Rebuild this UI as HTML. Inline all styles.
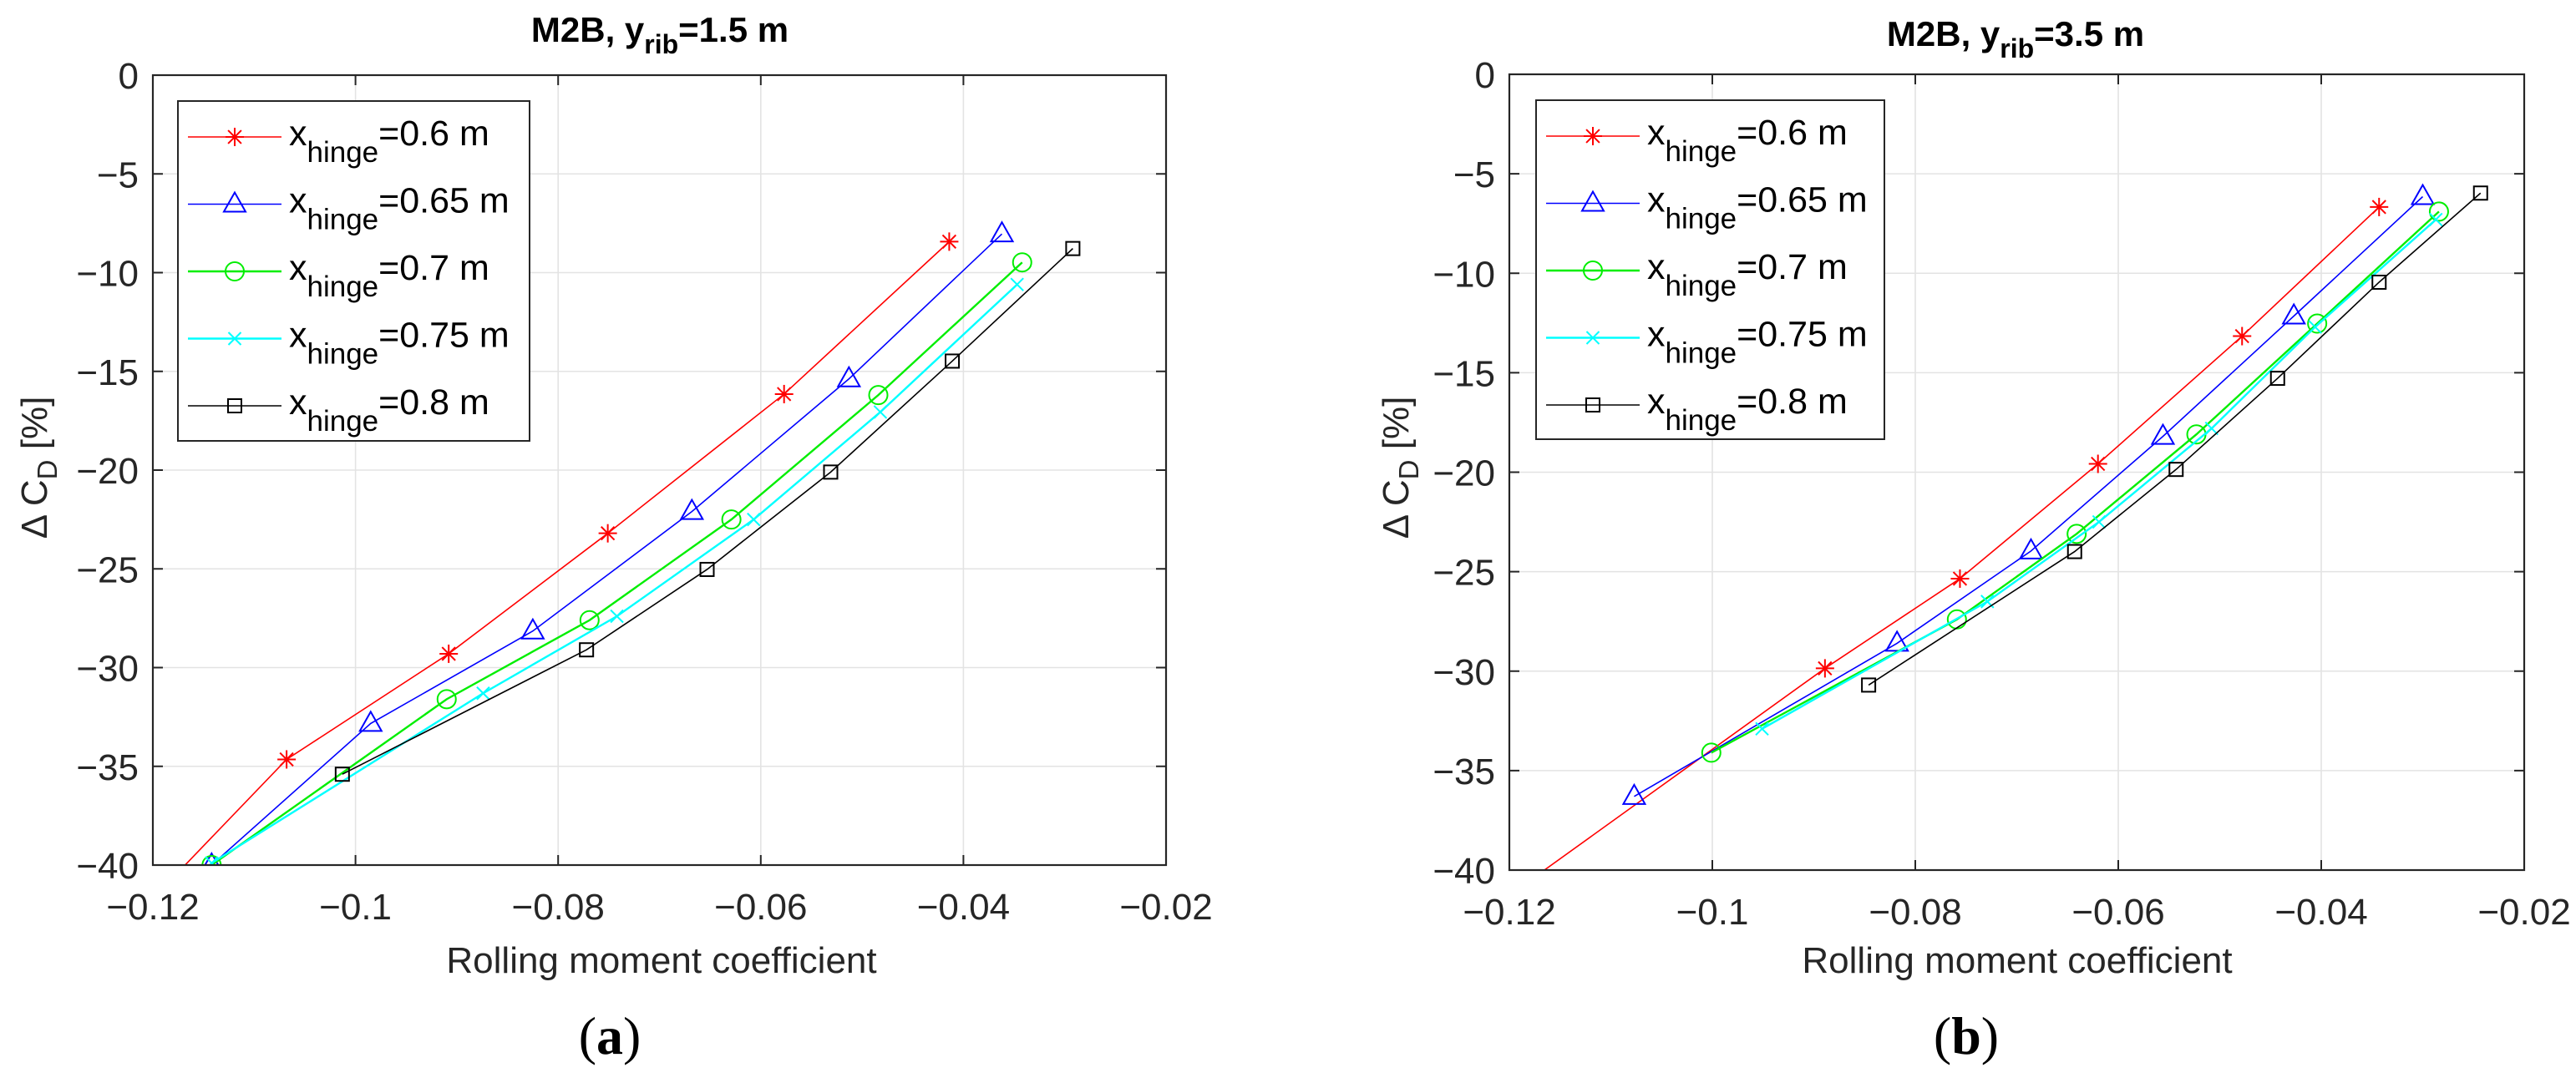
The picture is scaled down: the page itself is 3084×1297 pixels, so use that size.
<!DOCTYPE html>
<html><head><meta charset="utf-8">
<style>
html,body{margin:0;padding:0;background:#fff;}
svg{display:block;font-family:"Liberation Sans",Arial,sans-serif;}
</style></head>
<body>
<svg id="fig" width="3084" height="1297" viewBox="0 0 3084 1297" xmlns="http://www.w3.org/2000/svg">
<rect x="0" y="0" width="3084" height="1297" fill="#fff"/>
</svg>
<script>
// ---- data ----
const xTicks = [-0.12, -0.1, -0.08, -0.06, -0.04, -0.02];
const xTickLabels = ["\u22120.12", "\u22120.1", "\u22120.08", "\u22120.06", "\u22120.04", "\u22120.02"];
const yTicks = [0, -5, -10, -15, -20, -25, -30, -35, -40];
const yTickLabels = ["0", "\u22125", "\u221210", "\u221215", "\u221220", "\u221225", "\u221230", "\u221235", "\u221240"];
const seriesLabels = ["0.6 m", "0.65 m", "0.7 m", "0.75 m", "0.8 m"];

// panel (a) y_rib = 1.5 m
const aRedX = [-0.1215, -0.1068, -0.0908, -0.0751, -0.0577, -0.0414];
const aRedY = [-42.5, -34.65, -29.3, -23.2, -16.15, -8.43];
const aBlueX = [-0.1142, -0.0985, -0.0825, -0.0668, -0.0513, -0.0362];
const aBlueY = [-40.0, -32.83, -28.15, -22.1, -15.38, -8.04];
const aGreenX = [-0.1142, -0.0910, -0.0769, -0.0629, -0.0484, -0.0342];
const aGreenY = [-40.0, -31.6, -27.6, -22.5, -16.2, -9.48];
const aCyanX = [-0.1142, -0.0874, -0.0742, -0.0607, -0.0482, -0.0347];
const aCyanY = [-39.9, -31.3, -27.4, -22.5, -17.06, -10.6];
const aBlackX = [-0.1013, -0.0772, -0.0653, -0.0531, -0.0411, -0.0292];
const aBlackY = [-35.4, -29.1, -25.03, -20.1, -14.48, -8.78];

// panel (b) y_rib = 3.5 m
const bRedX = [-0.1190, -0.0889, -0.0756, -0.0620, -0.0478, -0.0343];
const bRedY = [-40.9, -29.86, -25.35, -19.58, -13.16, -6.67];
const bBlueX = [-0.1077, -0.0818, -0.0686, -0.0556, -0.0427, -0.0300];
const bBlueY = [-36.3, -28.6, -23.96, -18.2, -12.15, -6.15];
const bGreenX = [-0.1001, -0.0759, -0.0641, -0.0523, -0.0404, -0.0284];
const bGreenY = [-34.1, -27.4, -23.1, -18.1, -12.53, -6.9];
const bCyanX = [-0.0951, -0.0729, -0.0619, -0.0508, -0.0406, -0.0287];
const bCyanY = [-32.9, -26.5, -22.5, -17.8, -12.7, -7.3];
const bBlackX = [-0.0846, -0.0643, -0.0543, -0.0443, -0.0343, -0.0243];
const bBlackY = [-30.7, -23.99, -19.86, -15.28, -10.45, -5.97];

const NS = "http://www.w3.org/2000/svg";
const svg = document.getElementById("fig");
function mk(tag, attrs, parent) {
  const e = document.createElementNS(NS, tag);
  for (const k in attrs) e.setAttribute(k, attrs[k]);
  (parent || svg).appendChild(e);
  return e;
}
const colors = ["#ff0000", "#0000ff", "#00ee00", "#00ffff", "#000000"];
const markers = ["star", "tri", "circle", "x", "square"];
const lineW = [1.6, 1.6, 2.4, 2.4, 1.6];
const markerNames = ["star-marker", "triangle-marker", "circle-marker", "x-marker", "square-marker"];

function drawMarker(g, type, cx, cy, color) {
  const sw = 2;
  if (type === "star") {
    const r = 11;
    mk("line", {x1: cx - r, y1: cy, x2: cx + r, y2: cy, stroke: color, "stroke-width": sw}, g);
    mk("line", {x1: cx, y1: cy - r, x2: cx, y2: cy + r, stroke: color, "stroke-width": sw}, g);
    const d = r * 0.72;
    mk("line", {x1: cx - d, y1: cy - d, x2: cx + d, y2: cy + d, stroke: color, "stroke-width": sw}, g);
    mk("line", {x1: cx - d, y1: cy + d, x2: cx + d, y2: cy - d, stroke: color, "stroke-width": sw}, g);
  } else if (type === "tri") {
    mk("polygon", {points: `${cx},${cy - 14} ${cx - 13},${cy + 9} ${cx + 13},${cy + 9}`, fill: "none", stroke: color, "stroke-width": sw}, g);
  } else if (type === "circle") {
    mk("circle", {cx: cx, cy: cy, r: 11, fill: "none", stroke: color, "stroke-width": sw}, g);
  } else if (type === "x") {
    const d = 7.5;
    mk("line", {x1: cx - d, y1: cy - d, x2: cx + d, y2: cy + d, stroke: color, "stroke-width": sw}, g);
    mk("line", {x1: cx - d, y1: cy + d, x2: cx + d, y2: cy - d, stroke: color, "stroke-width": sw}, g);
  } else if (type === "square") {
    mk("rect", {x: cx - 8, y: cy - 8, width: 16, height: 16, fill: "none", stroke: color, "stroke-width": sw}, g);
  }
}

function panel(opts) {
  const {id, L, R, T, B, title, titleX, titleY, ylabX, xlabX, xlabY, tag, tagX, legL, legT, legR, legB, series} = opts;
  const xs = v => L + (v - (-0.12)) / 0.1 * (R - L);
  const ys = v => T + (0 - v) / 40 * (B - T);
  const g = mk("g", {});
  
  
  const cp = mk("clipPath", {id: id + "-clip"}, g);
  mk("rect", {x: L, y: T, width: R - L, height: B - T}, cp);
  const grid = mk("g", {stroke: "#e3e3e3", "stroke-width": 1.6}, g);
  
  
  xTicks.forEach(t => mk("line", {x1: xs(t), y1: T, x2: xs(t), y2: B}, grid));
  yTicks.forEach(t => mk("line", {x1: L, y1: ys(t), x2: R, y2: ys(t)}, grid));
  const tk = mk("g", {stroke: "#262626", "stroke-width": 2}, g);
  
  
  xTicks.forEach(t => {
    mk("line", {x1: xs(t), y1: B, x2: xs(t), y2: B - 12}, tk);
    mk("line", {x1: xs(t), y1: T, x2: xs(t), y2: T + 12}, tk);
  });
  yTicks.forEach(t => {
    mk("line", {x1: L, y1: ys(t), x2: L + 12, y2: ys(t)}, tk);
    mk("line", {x1: R, y1: ys(t), x2: R - 12, y2: ys(t)}, tk);
  });
  const xl = mk("g", {"font-size": 44, fill: "#262626", "text-anchor": "middle"}, g);
  
  
  xTicks.forEach((t, i) => { const e = mk("text", {x: xs(t), y: B + 65}, xl); e.textContent = xTickLabels[i]; });
  const yl = mk("g", {"font-size": 44, fill: "#262626", "text-anchor": "end"}, g);
  
  
  yTicks.forEach((t, i) => { const e = mk("text", {x: L - 17, y: ys(t) + 16}, yl); e.textContent = yTickLabels[i]; });
  series.forEach((s, k) => {
    const sg = mk("g", {"clip-path": `url(#${id}-clip)`}, g);
    
    
    const pts = s.x.map((v, i) => xs(v) + "," + ys(s.y[i])).join(" ");
    mk("polyline", {points: pts, fill: "none", stroke: colors[k], "stroke-width": lineW[k]}, sg);
    s.x.forEach((v, i) => {
      const m = mk("g", {}, sg);
      
      
      drawMarker(m, markers[k], xs(v), ys(s.y[i]), colors[k]);
    });
  });
  const box = mk("rect", {x: L, y: T, width: R - L, height: B - T, fill: "none", stroke: "#262626", "stroke-width": 2.2}, g);
  
  
  const lg = mk("g", {}, g);
  
  
  mk("rect", {x: legL, y: legT, width: legR - legL, height: legB - legT, fill: "#fff", stroke: "#262626", "stroke-width": 2}, lg);
  seriesLabels.forEach((lab, k) => {
    const ry = legT + 43 + k * 80.5;
    const ent = mk("g", {}, lg);
    
    
    mk("line", {x1: legL + 12, y1: ry, x2: legL + 124, y2: ry, stroke: colors[k], "stroke-width": lineW[k]}, ent);
    drawMarker(ent, markers[k], legL + 68, ry, colors[k]);
    const t = mk("text", {x: legL + 133, y: ry + 10, "font-size": 43, fill: "#000"}, ent);
    const t1 = mk("tspan", {}, t); t1.textContent = "x";
    const t2 = mk("tspan", {"font-size": 35, dy: 20}, t); t2.textContent = "hinge";
    const t3 = mk("tspan", {dy: -20}, t); t3.textContent = "=" + lab;
  });
  const ti = mk("text", {x: titleX, y: titleY, "font-size": 42, "font-weight": "bold", fill: "#000", "text-anchor": "middle"}, g);
  
  
  const a1 = mk("tspan", {}, ti); a1.textContent = "M2B, y";
  const a2 = mk("tspan", {"font-size": 32, dy: 14}, ti); a2.textContent = "rib";
  const a3 = mk("tspan", {dy: -14}, ti); a3.textContent = "=" + title;
  const yt = mk("text", {x: 0, y: 0, "font-size": 44, fill: "#262626", "text-anchor": "middle", transform: `translate(${ylabX},560) rotate(-90)`}, g);
  
  
  const b1 = mk("tspan", {}, yt); b1.textContent = "\u0394 C";
  const b2 = mk("tspan", {"font-size": 33, dy: 12}, yt); b2.textContent = "D";
  const b3 = mk("tspan", {dy: -12}, yt); b3.textContent = " [%]";
  const xt = mk("text", {x: xlabX, y: xlabY, "font-size": 44, fill: "#262626", "text-anchor": "middle"}, g);
  
  
  xt.textContent = "Rolling moment coefficient";
  const pt = mk("text", {x: tagX, y: 1262, "font-size": 64, fill: "#000", "text-anchor": "middle", "font-family": "Liberation Serif, serif"}, g);
  
  
  const c1 = mk("tspan", {}, pt); c1.textContent = "(";
  const c2 = mk("tspan", {"font-weight": "bold"}, pt); c2.textContent = tag;
  const c3 = mk("tspan", {}, pt); c3.textContent = ")";
}

panel({id: "panel-a", L: 183, R: 1396, T: 90, B: 1036, title: "1.5 m", titleX: 790, titleY: 50,
  ylabX: 56, xlabX: 792, xlabY: 1165, tag: "a", tagX: 730,
  legL: 213, legT: 121, legR: 634, legB: 528,
  series: [{x: aRedX, y: aRedY}, {x: aBlueX, y: aBlueY}, {x: aGreenX, y: aGreenY}, {x: aCyanX, y: aCyanY}, {x: aBlackX, y: aBlackY}]});
panel({id: "panel-b", L: 1807, R: 3022, T: 89, B: 1042, title: "3.5 m", titleX: 2413, titleY: 55,
  ylabX: 1686, xlabX: 2415, xlabY: 1165, tag: "b", tagX: 2354,
  legL: 1839, legT: 120, legR: 2256, legB: 526,
  series: [{x: bRedX, y: bRedY}, {x: bBlueX, y: bBlueY}, {x: bGreenX, y: bGreenY}, {x: bCyanX, y: bCyanY}, {x: bBlackX, y: bBlackY}]});
</script>
</body></html>
